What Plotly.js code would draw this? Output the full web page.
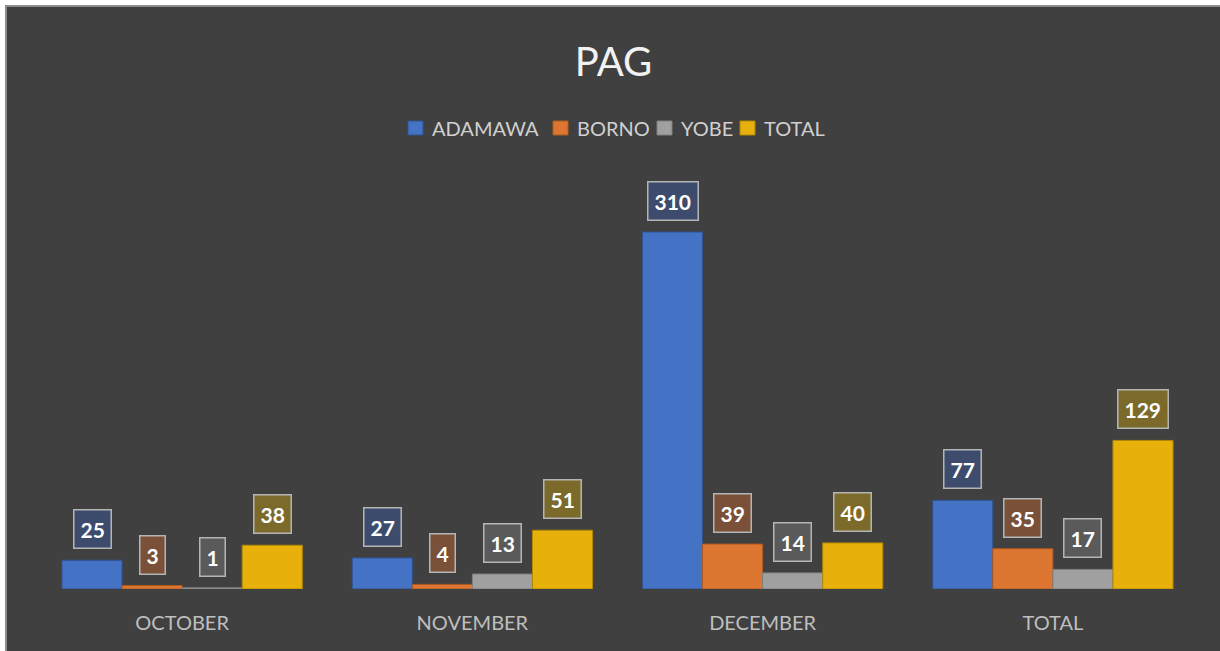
<!DOCTYPE html>
<html>
<head>
<meta charset="utf-8">
<script src="https://cdn.plot.ly/plotly-3.0.1.min.js"></script>
<style>
html,body{margin:0;padding:0;background:#ffffff;width:1220px;height:651px;overflow:hidden;}
#frame{position:absolute;left:5px;top:5px;width:1215px;height:646px;border-left:2px solid #8c8c8c;border-top:2px solid #8c8c8c;background:#404040;}
#chart{width:1213px;height:644px;}
</style>
</head>
<body>
<div id="frame"><div id="chart"></div></div>
<script>
const categories = ["OCTOBER", "NOVEMBER", "DECEMBER", "TOTAL"];
const seriesNames = ["ADAMAWA", "BORNO", "YOBE", "TOTAL"];
const adamawa = [25, 27, 310, 77];
const borno = [3, 4, 39, 35];
const yobe = [1, 13, 14, 17];
const total = [38, 51, 40, 129];

const seriesValues = [adamawa, borno, yobe, total];
const barColors = ["#4472C4", "#DD7631", "#A0A0A0", "#E8B00A"];
const lineColors = ["#2F528F", "#AE5A21", "#7F7F7F", "#B08800"];
const labelFill = ["#3D4B6D", "#7A5038", "#5A5A5A", "#7C6A2A"];
const FONT = "Lato, 'Noto Sans', sans-serif";

const W = 1213, H = 644;
const M = {l: 30, r: 22, t: 172, b: 62};
const plotW = W - M.l - M.r, plotH = H - M.t - M.b;

const bargap = 0.172;
const nSeries = seriesValues.length;
const barW = (1 - bargap) / nSeries;

const traces = seriesValues.map((vals, i) => ({
  type: "bar",
  name: seriesNames[i],
  x: categories,
  y: vals,
  marker: {color: barColors[i], line: {color: lineColors[i], width: 1}},
  hoverinfo: "skip",
  showlegend: false
}));

const annotations = [];
const shapes = [];
seriesValues.forEach((vals, i) => {
  vals.forEach((v, j) => {
    annotations.push({
      xref: "x", yref: "y",
      x: j + (i - (nSeries - 1) / 2) * barW,
      y: v,
      yanchor: "bottom",
      xanchor: "center",
      yshift: 11,
      showarrow: false,
      text: "<b>" + v + "</b>",
      font: {family: FONT, size: 21, color: "#FFFFFF"},
      bgcolor: labelFill[i],
      bordercolor: "#B5B5B5",
      borderwidth: 1.5,
      borderpad: 6
    });
  });
});

// custom legend (pixel positions within the chart div, converted to paper coords)
const legendY = 121;
const legendSwatchX = [401, 546, 650, 733];
const px2x = p => (p - M.l) / plotW;
const py2y = p => (H - M.b - p) / plotH;
seriesNames.forEach((name, i) => {
  const x0 = legendSwatchX[i];
  shapes.push({
    type: "rect", xref: "paper", yref: "paper",
    x0: px2x(x0), x1: px2x(x0 + 15),
    y0: py2y(legendY + 7), y1: py2y(legendY - 7),
    fillcolor: barColors[i],
    line: {color: lineColors[i], width: 1}
  });
  annotations.push({
    xref: "paper", yref: "paper",
    x: px2x(x0 + 22), y: py2y(legendY),
    xanchor: "left", yanchor: "middle",
    showarrow: false,
    text: name,
    font: {family: FONT, size: 20, color: "#D0D0D0"}
  });
});

const layout = {
  width: W,
  height: H,
  paper_bgcolor: "#404040",
  plot_bgcolor: "#404040",
  margin: M,
  title: {
    text: "PAG",
    font: {family: FONT, size: 40, color: "#F2F2F2"},
    x: 0.5, xanchor: "center",
    y: 0.915, yanchor: "middle", yref: "container"
  },
  showlegend: false,
  barmode: "group",
  bargap: bargap,
  bargroupgap: 0,
  xaxis: {
    type: "category",
    showgrid: false,
    zeroline: false,
    showline: false,
    ticks: "",
    ticklabelstandoff: 20,
    tickfont: {family: FONT, size: 20, color: "#BFBFBF"},
    fixedrange: true
  },
  yaxis: {
    range: [0, 356],
    visible: false,
    showgrid: false,
    zeroline: false,
    fixedrange: true
  },
  shapes: shapes,
  annotations: annotations
};

Plotly.newPlot("chart", traces, layout, {displayModeBar: false, staticPlot: true});
</script>
</body>
</html>
